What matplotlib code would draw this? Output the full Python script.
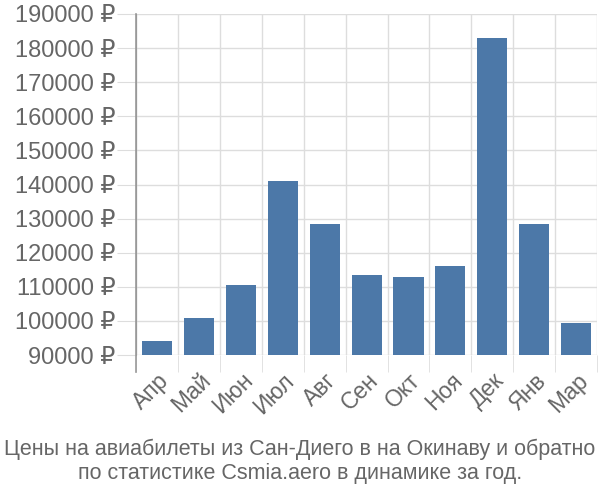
import matplotlib
matplotlib.use("Agg")
import matplotlib.pyplot as plt
import numpy as np

plt.rcParams['font.family'] = ['Liberation Sans', 'DejaVu Sans']

MONTHS = ["Апр", "Май", "Июн", "Июл", "Авг", "Сен", "Окт", "Ноя", "Дек", "Янв", "Мар"]
PRICES = [94100, 100850, 110500, 141000, 128400, 113500, 112900, 116100, 183000, 128400, 99400]
Y_TICKS = list(range(90000, 190001, 10000))
TITLE = "Цены на авиабилеты из Сан-Диего в на Окинаву и обратно\nпо статистике Csmia.aero в динамике за год."

TEXT = "#666666"
GRID = "#dddddd"
BAR = "#4c78a8"

fig = plt.figure(figsize=(6, 5), dpi=100)
ax = fig.add_axes([0.227, 0.29, 0.768, 0.682])

x = np.arange(len(MONTHS))
ax.bar(x, PRICES, width=0.72, color=BAR, zorder=3)

ax.set_xlim(-0.5, len(MONTHS) - 0.5)
ax.set_ylim(90000, 190000)

ax.set_yticks(Y_TICKS)
ax.set_yticklabels([f"{v} ₽" for v in Y_TICKS])
ax.tick_params(axis='y', length=14, color=GRID, labelcolor=TEXT, labelsize=17, pad=1)

ax.set_xticks(x)
ax.set_xticklabels(MONTHS, rotation=45, ha='right', va='top', rotation_mode='anchor')
ax.tick_params(axis='x', which='major', length=0, labelcolor=TEXT, labelsize=16.5, pad=10)
ax.set_xticks(np.arange(-0.5, len(MONTHS)), minor=True)
ax.tick_params(axis='x', which='minor', length=12, color=GRID)

ax.grid(True, which='major', axis='y', color=GRID, linewidth=1, zorder=0)
ax.grid(True, which='minor', axis='x', color=GRID, linewidth=1, zorder=0)

for s in ['top', 'right', 'bottom']:
    ax.spines[s].set_visible(False)
ax.spines['left'].set_color("#999999")
ax.axvline(-0.5, ymin=-0.05, ymax=1, color="#999999", linewidth=1.2, clip_on=False, zorder=4)

fig.text(0.5, 0.078, TITLE, ha='center', va='center', color=TEXT, fontsize=15.5, linespacing=1.2)

fig.savefig("out.png", dpi=100)
